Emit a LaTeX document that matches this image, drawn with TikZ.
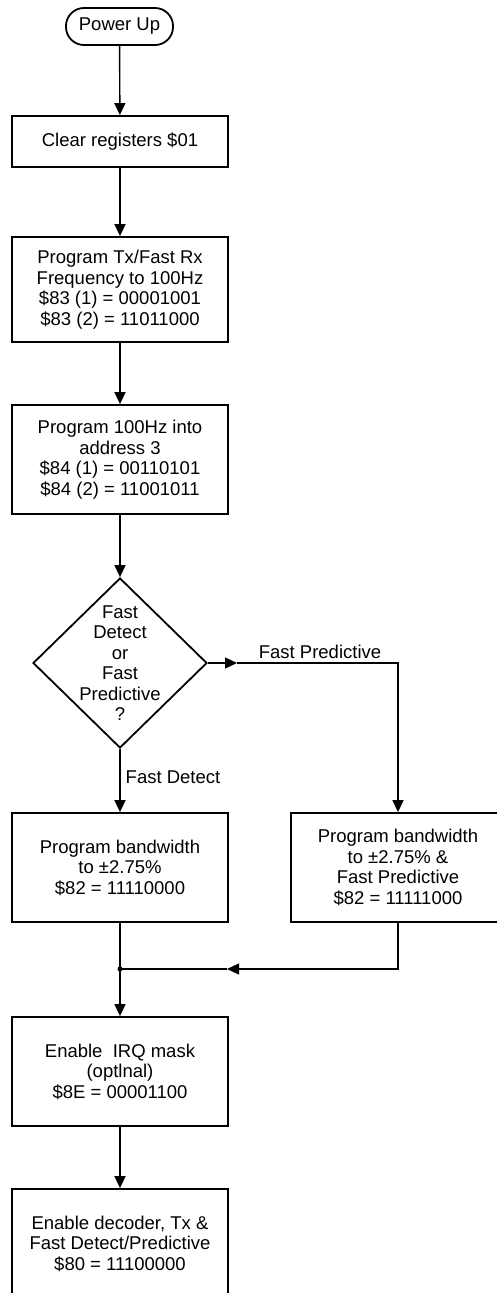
\documentclass[tikz,border=0pt]{standalone}
\usepackage{fontspec}
\setmainfont{Liberation Sans}
\usetikzlibrary{arrows.meta,shapes.geometric}

\begin{document}
\begin{tikzpicture}[x=1pt,y=-1pt,
  every node/.style={font=\fontsize{18.5}{20.5}\selectfont},
  proc/.style={draw,line width=1.8pt,minimum width=216pt,minimum height=109pt,align=center,inner sep=0pt},
  term/.style={draw,line width=1.8pt,rounded corners=18pt,minimum width=107pt,minimum height=37pt,inner sep=0pt},
  flow/.style={line width=1.4pt,-{Triangle[length=12pt,width=11pt]}},
  link/.style={line width=1.4pt}]
  \clip (0,0) rectangle (497,1293);
  % main column
  \node[term] (start) at (119.5,26.5) {Power Up};
  \node[proc,minimum height=51pt] (clr) at (120,141.5) {Clear registers \$01};
  \node[proc,minimum height=105pt] (freq) at (120,289.5) {Program Tx/Fast Rx\\Frequency to 100Hz\\\$83 (1) = 00001001\\\$83 (2) = 11011000};
  \node[proc] (addr) at (120,459.5) {Program 100Hz into\\address 3\\\$84 (1) = 00110101\\\$84 (2) = 11001011};
  \node[diamond,draw,line width=1.8pt,minimum width=174pt,minimum height=170pt,inner sep=0pt] (dec) at (120,663) {};
  \node[align=center] (dectxt) at (dec.center) {Fast\\Detect\\or\\Fast\\Predictive\\?};
  \node[proc] (fd) at (120,867.5) {Program bandwidth\\to ±2.75\%\\\$82 = 11110000};
  \node[proc,minimum width=214pt] (fp) at (398,867.5) {Program bandwidth\\to ±2.75\% \&\\Fast Predictive\\\$82 = 11111000};
  \node[proc] (irq) at (120,1071.5) {Enable\ \ IRQ mask\\(optlnal)\\\$8E = 00001100};
  \node[proc] (en) at (120,1243.5) {Enable decoder, Tx \&\\Fast Detect/Predictive\\\$80 = 11100000};
  % labels
  \node (lblfp) at (320,652) {Fast Predictive};
  \node (lblfd) at (173,777) {Fast Detect};
  % connectors
  \coordinate (pmid) at (237,663);
  \coordinate (jmid) at (227,969);
  \coordinate (join) at (120,969);
  \draw[flow] (start) -- (clr);
  \draw[flow] (clr) -- (freq);
  \draw[flow] (freq) -- (addr);
  \draw[flow] (addr) -- (dec.north);
  \draw[flow] (dec.south) -- (fd);
  \draw[flow] (dec.east) -- (pmid);
  \draw[flow] (pmid) -| (fp.north);
  \draw[link] (fd.south) -- (join);
  \draw[flow] (fp.south) |- (jmid);
  \draw[link] (jmid) -- (join);
  \draw[flow] (join) -- (irq);
  \draw[flow] (irq) -- (en);
  \fill (join) circle (2.5pt);
\end{tikzpicture}
\end{document}
